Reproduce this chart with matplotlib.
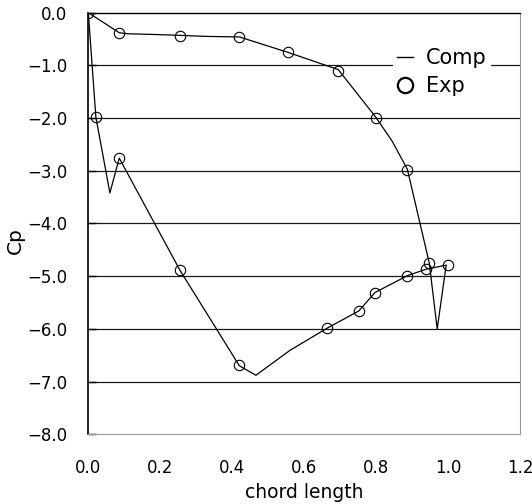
import matplotlib.pyplot as plt
from matplotlib.lines import Line2D

plt.rcParams['font.family'] = ['DejaVu Sans']

# Computed Cp, traced around the section (upper surface, trailing edge, lower surface)
comp_x = [0.0, 0.086, 0.11, 0.17, 0.255, 0.33, 0.420, 0.554, 0.695, 0.799,
          0.845, 0.887, 0.948, 0.970, 0.995, 0.938, 0.887, 0.797, 0.752,
          0.663, 0.56, 0.466, 0.420, 0.255, 0.086, 0.060, 0.021, 0.0]
comp_cp = [0.0, -0.38, -0.40, -0.41, -0.43, -0.45, -0.46, -0.75, -1.08, -1.98,
           -2.44, -2.97, -4.75, -6.0, -4.79, -4.87, -4.99, -5.31, -5.66,
           -5.99, -6.41, -6.88, -6.70, -4.89, -2.76, -3.42, -1.98, 0.0]

# Measured Cp
exp_x = [0.0, 0.086, 0.255, 0.420, 0.554, 0.695, 0.799, 0.887, 0.948, 0.999,
         0.938, 0.887, 0.797, 0.752, 0.663, 0.420, 0.255, 0.086, 0.021]
exp_cp = [0.0, -0.39, -0.44, -0.46, -0.75, -1.10, -2.00, -2.98, -4.75, -4.78,
          -4.87, -4.99, -5.31, -5.66, -5.99, -6.69, -4.89, -2.76, -1.98]

x_ticks = [0.0, 0.2, 0.4, 0.6, 0.8, 1.0, 1.2]
y_ticks = [0.0, -1.0, -2.0, -3.0, -4.0, -5.0, -6.0, -7.0, -8.0]

fig = plt.figure(figsize=(5.32, 5.04), dpi=100)
ax = fig.add_axes([0.166, 0.1383, 0.8113, 0.8365])

# horizontal grid lines at each Cp step
for yv in y_ticks[1:-1]:
    ax.axhline(yv, color='#1a1a1a', lw=0.9, zorder=1)

ax.plot(comp_x, comp_cp, color='black', lw=0.9, zorder=3)
ax.plot(exp_x, exp_cp, linestyle='none', marker='o', ms=7.5,
        mfc='none', mec='black', mew=0.8, zorder=4)

ax.set_xlim(0, 1.2)
ax.set_ylim(-8, 0)
ax.set_xticks(x_ticks)
ax.set_yticks(y_ticks)
ax.set_xticklabels([f'{v:.1f}' for v in x_ticks])
ax.set_yticklabels([f'{v:.1f}'.replace('-', '\u2212') for v in y_ticks])
ax.tick_params(axis='x', length=0, pad=18, labelsize=12)
ax.tick_params(axis='y', direction='in', length=6, width=1, pad=15, labelsize=12)

ax.spines['left'].set_color('black')
ax.spines['left'].set_linewidth(1.2)
ax.spines['top'].set_color('black')
ax.spines['top'].set_linewidth(1.0)
ax.spines['right'].set_color('#999999')
ax.spines['bottom'].set_color('#999999')

ax.set_xlabel('chord length', fontsize=13.5)
ax.set_ylabel('Cp', fontsize=14.5)
ax.xaxis.set_label_coords(0.5, -0.115)
ax.yaxis.set_label_coords(-0.148, 0.46)

handles = [Line2D([], [], color='black', lw=1.0),
           Line2D([], [], linestyle='none', marker='o', ms=11,
                  mfc='none', mec='black', mew=1.6)]
leg = ax.legend(handles, ['Comp', 'Exp'], loc='upper left',
                bbox_to_anchor=(0.705, 0.926), fontsize=15, frameon=True,
                fancybox=False, handlelength=0.8, handletextpad=0.6,
                labelspacing=0.4, borderpad=0.2, borderaxespad=0)
leg.get_frame().set_edgecolor('none')
leg.get_frame().set_facecolor('white')
leg.get_frame().set_alpha(1.0)
leg.set_zorder(5)

fig.savefig('out.png', dpi=100)
